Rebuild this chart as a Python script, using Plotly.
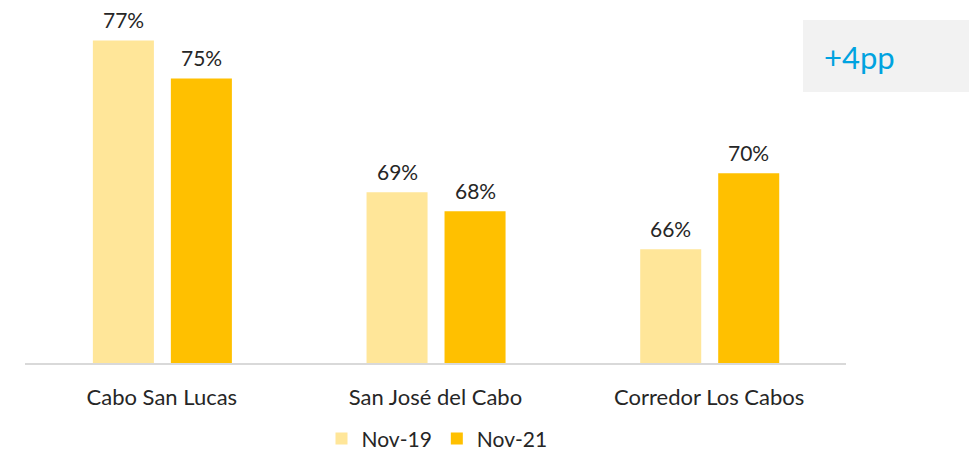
import plotly.graph_objects as go

categories = ["Cabo San Lucas", "San José del Cabo", "Corredor Los Cabos"]
nov19 = [77, 69, 66]
nov21 = [75, 68, 70]
series_names = ["Nov-19", "Nov-21"]
callout = "+4pp"

FONT = "Lato, Carlito, Calibri, sans-serif"
TXT = "#262626"

# page body has an 8px default margin; figure is sized to fit the window
W, H = 969, 448
L, R, T, B = 17, 131, 2, 92.5
PW, PH = W - L - R, H - T - B
Y0 = 60
PX_PER_PT = 19
Y1 = Y0 + PH / PX_PER_PT

BAR_W = 0.223
CENTER = [-0.1405, 0.1445]
idx = list(range(len(categories)))

fig = go.Figure()
for name, vals, col, c in [(series_names[0], nov19, "#FFE699", CENTER[0]),
                           (series_names[1], nov21, "#FFC000", CENTER[1])]:
    xs = [i + c for i in idx]
    fig.add_trace(go.Bar(x=xs, y=vals, name=name, width=BAR_W,
                         marker=dict(color=col, line=dict(width=0))))
    for x, v in zip(xs, vals):
        fig.add_annotation(x=x, y=v, xref="x", yref="y", text=f"{v}%",
                           showarrow=False, yanchor="bottom", yshift=6,
                           font=dict(family=FONT, size=21, color=TXT))

fig.update_layout(
    width=W, height=H,
    margin=dict(l=L, r=R, t=T, b=B, autoexpand=False),
    paper_bgcolor="white", plot_bgcolor="white",
    barmode="overlay",
    font=dict(family=FONT, size=21, color=TXT),
    showlegend=True,
    legend=dict(orientation="h", x=(429 - L) / PW, xanchor="center",
                y=-(H - T - PH + 4) / PH, yanchor="bottom",
                font=dict(family=FONT, size=21, color=TXT),
                traceorder="normal"),
    xaxis=dict(range=[-0.5, 2.5], tickvals=idx, ticktext=categories,
               showgrid=False, zeroline=False, showline=True,
               linecolor="#D9D9D9", linewidth=2,
               ticks="", ticklabelstandoff=14,
               tickfont=dict(family=FONT, size=22, color=TXT)),
    yaxis=dict(range=[Y0, Y1], visible=False, showgrid=False, zeroline=False),
    shapes=[dict(type="rect", xref="paper", yref="paper",
                 x0=(795 - L) / PW, x1=(W - L) / PW,
                 y0=(T + PH - 84) / PH, y1=(T + PH - 12) / PH,
                 fillcolor="#F2F2F2", line=dict(width=0), layer="below")],
)
fig.add_annotation(text=callout, xref="paper", yref="paper",
                   x=(814 - L) / PW, y=(T + PH - 49) / PH,
                   xanchor="left", yanchor="middle", showarrow=False,
                   font=dict(family=FONT, size=31, color="#00A3E0"))

fig.write_html("out.html")
